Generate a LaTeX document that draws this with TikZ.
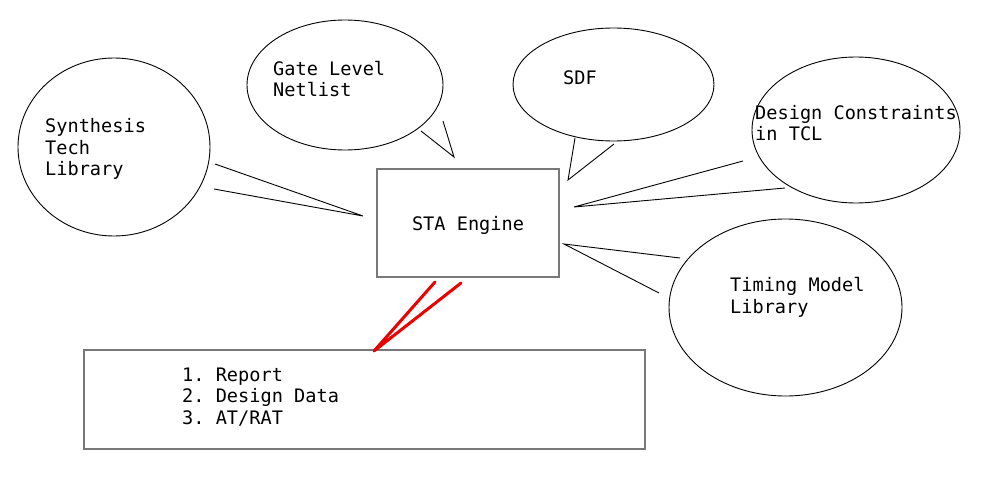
\documentclass[tikz,border=0pt]{standalone}
\usepackage{fontspec}
\setmonofont{DejaVu Sans Mono}
\usetikzlibrary{shapes.geometric}
\definecolor{boxgray}{RGB}{120,120,120}
\definecolor{outred}{RGB}{235,0,0}
\begin{document}
\begin{tikzpicture}[x=1pt,y=-1pt,
  bubble/.style={draw=black, line width=0.9pt, ellipse, inner sep=0pt},
  box/.style={draw=boxgray, line width=1.5pt, inner sep=0pt},
  lbl/.style={font=\ttfamily\fontsize{18.6}{21.7}\selectfont, align=left, inner sep=0pt, anchor=west},
  wedge/.style={draw=black, line width=0.9pt, line join=miter},
  outwedge/.style={draw=outred, line width=3pt, line cap=round, line join=round}]
\useasboundingbox (0,0) rectangle (987,487);

% bubbles
\node[bubble, minimum width=192, minimum height=178] (syn) at (114,147) {};
\node[bubble, minimum width=196, minimum height=130] (gate) at (345,85) {};
\node[bubble, minimum width=201, minimum height=113] (sdf) at (613.5,84.5) {};
\node[bubble, minimum width=208, minimum height=146] (dc) at (856,130) {};
\node[bubble, minimum width=233, minimum height=177] (tml) at (785.5,307.5) {};

% texts
\node[lbl] (syntxt) at (45,149) {Synthesis\\Tech\\Library};
\node[lbl] (gatetxt) at (273,79) {Gate Level\\Netlist};
\node[lbl] (sdftxt) at (563,77.5) {SDF};
\node[lbl] (dctxt) at (755,123) {Design Constraints\\in TCL};
\node[lbl] (tmltxt) at (730,297) {Timing Model\\Library};

% boxes
\node[box, minimum width=182, minimum height=108] (sta) at (468,223) {};
\node[lbl, anchor=center] (statxt) at (468,225) {STA Engine};
\node[box, minimum width=561, minimum height=99] (out) at (364.5,399.5) {};
\node[lbl] (outtxt) at (182,397) {1. Report\\2. Design Data\\3. AT/RAT};

% wedge coordinates
\coordinate (synA) at (215,164);
\coordinate (synB) at (214,189);
\coordinate (synP) at (363,216);
\coordinate (gateA) at (421,131);
\coordinate (gateB) at (443,121);
\coordinate (gateP) at (454,157);
\coordinate (sdfA) at (575,138);
\coordinate (sdfB) at (614,144);
\coordinate (sdfP) at (568,180);
\coordinate (dcA) at (743,161);
\coordinate (dcB) at (785,188);
\coordinate (dcP) at (574,207);
\coordinate (tmlA) at (680,258);
\coordinate (tmlB) at (659,293);
\coordinate (tmlP) at (564,244);
\coordinate (outA) at (435,282);
\coordinate (outB) at (461,283);
\coordinate (outP) at (374,351);

\draw[wedge] (synA) -- (synP) -- (synB);
\draw[wedge] (gateA) -- (gateP) -- (gateB);
\draw[wedge] (sdfA) -- (sdfP) -- (sdfB);
\draw[wedge] (dcA) -- (dcP) -- (dcB);
\draw[wedge] (tmlA) -- (tmlP) -- (tmlB);
\draw[outwedge] (outA) -- (outP) -- (outB);
\end{tikzpicture}
\end{document}
